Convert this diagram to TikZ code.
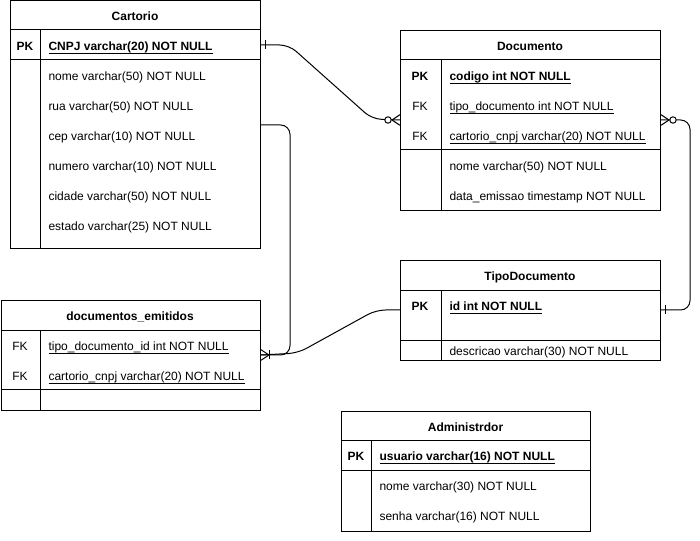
\documentclass[tikz,border=0pt]{standalone}
\usepackage{fontspec}
\setmainfont{Liberation Sans}
\newcommand\myul[1]{\setbox0\hbox{#1}\rlap{\rule[-1.8pt]{\wd0}{0.6pt}}\box0}
\begin{document}
\begin{tikzpicture}[x=0.75pt,y=-0.75pt, line width=0.75pt,
  tbl/.style={draw, inner sep=0, anchor=north west, fill=white},
  ttl/.style={font=\bfseries\fontsize{9}{11}\selectfont, inner sep=0, anchor=base, yshift=-1.5pt},
  keyl/.style={font=\bfseries\fontsize{9}{11}\selectfont, inner sep=0, anchor=base, yshift=-1.5pt},
  fkl/.style={font=\fontsize{9}{11}\selectfont, inner sep=0, anchor=base, yshift=-1.5pt},
  fld/.style={font=\fontsize{9}{11}\selectfont, inner sep=0, anchor=base west, yshift=-1.5pt},
  pkf/.style={font=\bfseries\fontsize{9}{11}\selectfont, inner sep=0, anchor=base west, yshift=-1.5pt},
  conn/.style={line width=0.75pt, rounded corners=7pt},
  mk/.style={line width=0.75pt}]
\useasboundingbox (0,0) rectangle (700,541);

% ---------------- Cartorio
\node[tbl, minimum width=187.5pt, minimum height=185.6pt] (cart) at (10,0.5) {};
\draw (10,30) -- (260,30) (10,60) -- (260,60) (40,30) -- (40,248);
\node[ttl] (cartT) at (135,19) {Cartorio};
\node[keyl] (cartK) at (25,49) {PK};
\node[pkf] (cartF1) at (48,49) {\myul{CNPJ varchar(20) NOT NULL}};
\node[fld] (cartF2) at (48,79) {nome varchar(50) NOT NULL};
\node[fld] (cartF3) at (48,109) {rua varchar(50) NOT NULL};
\node[fld] (cartF4) at (48,139) {cep varchar(10) NOT NULL};
\node[fld] (cartF5) at (48,169) {numero varchar(10) NOT NULL};
\node[fld] (cartF6) at (48,199) {cidade varchar(50) NOT NULL};
\node[fld] (cartF7) at (48,229) {estado varchar(25) NOT NULL};

% ---------------- Documento
\node[tbl, minimum width=195pt, minimum height=135pt] (doc) at (400,30) {};
\draw (400,60) -- (660,60) (400,150) -- (660,150) (441,60) -- (441,210);
\node[ttl] (docT) at (530,49) {Documento};
\node[keyl] (docK1) at (420,79) {PK};
\node[fkl] (docK2) at (420,109) {FK};
\node[fkl] (docK3) at (420,139) {FK};
\node[pkf] (docF1) at (449,79) {\myul{codigo int NOT NULL}};
\node[fld] (docF2) at (449,109) {\myul{tipo\_documento int NOT NULL}};
\node[fld] (docF3) at (449,139) {\myul{cartorio\_cnpj varchar(20) NOT NULL}};
\node[fld] (docF4) at (449,169) {nome varchar(50) NOT NULL};
\node[fld] (docF5) at (449,199) {data\_emissao timestamp NOT NULL};

% ---------------- TipoDocumento
\node[tbl, minimum width=195pt, minimum height=75pt] (tipo) at (400,260) {};
\draw (400,291) -- (660,291) (400,341) -- (660,341) (441,291) -- (441,360);
\node[ttl] (tipoT) at (530,279) {TipoDocumento};
\node[keyl] (tipoK) at (420,309) {PK};
\node[pkf] (tipoF1) at (449,309) {\myul{id int NOT NULL}};
\node[fld] (tipoF2) at (449,354) {descricao varchar(30) NOT NULL};

% ---------------- documentos_emitidos
\node[tbl, minimum width=194.6pt, minimum height=82.5pt] (emit) at (0.5,300) {};
\draw (0.5,331) -- (260,331) (0.5,390) -- (260,390) (40,331) -- (40,410);
\node[ttl] (emitT) at (130,319) {documentos\_emitidos};
\node[fkl] (emitK1) at (20,349) {FK};
\node[fkl] (emitK2) at (20,379) {FK};
\node[fld] (emitF1) at (48,349) {\myul{tipo\_documento\_id int NOT NULL}};
\node[fld] (emitF2) at (48,379) {\myul{cartorio\_cnpj varchar(20) NOT NULL}};

% ---------------- Administrdor
\node[tbl, minimum width=186.75pt, minimum height=90pt] (adm) at (341,411) {};
\draw (341,441) -- (590,441) (341,471) -- (590,471) (371,441) -- (371,531);
\node[ttl] (admT) at (465.5,430) {Administrdor};
\node[keyl] (admK) at (356,459) {PK};
\node[pkf] (admF1) at (379,459) {\myul{usuario varchar(16) NOT NULL}};
\node[fld] (admF2) at (379,489) {nome varchar(30) NOT NULL};
\node[fld] (admF3) at (379,519) {senha varchar(16) NOT NULL};

% ---------------- connector anchors
\coordinate (cpk) at (cart.east |- 0,45);
\coordinate (cmid) at (cart.east |- 0,125);
\coordinate (dleft) at (doc.west |- 0,120);
\coordinate (dright) at (doc.east |- 0,120);
\coordinate (tright) at (tipo.east |- 0,310);
\coordinate (tleft) at (tipo.west |- 0,310);
\coordinate (eright) at (emit.east |- 0,355);

% Cartorio -> Documento (one to zero-or-many)
\draw[conn] (cpk) -- ++(28,0) -- (372,119) -- (dleft);
\draw[mk] ([xshift=3pt]cpk) ++(0,-4.5) -- ++(0,9);
\draw[mk, fill=white] ([xshift=-9pt]dleft) circle (3.2);
\draw[mk] ([xshift=-6pt]dleft) -- ([yshift=4pt]dleft) ([xshift=-6pt]dleft) -- ([yshift=-4pt]dleft);

% Documento -> TipoDocumento (zero-or-many to one)
\draw[conn] (dright) -- (690,120) -- (690,310) -- (tright);
\draw[mk, fill=white] ([xshift=9pt]dright) circle (3.2);
\draw[mk] ([xshift=6pt]dright) -- ([yshift=4pt]dright) ([xshift=6pt]dright) -- ([yshift=-4pt]dright);
\draw[mk] ([xshift=3pt]tright) ++(0,-4.5) -- ++(0,9);

% Cartorio -> documentos_emitidos
\draw[conn] (cmid) -- (290,125) -- (290,355) -- (eright);
% TipoDocumento -> documentos_emitidos
\draw[conn] (tleft) -- (376,310) -- (298,353) -- (eright);
\draw[mk] ([xshift=6pt]eright) -- ([yshift=4pt]eright) ([xshift=6pt]eright) -- ([yshift=-4pt]eright);
\draw[mk] ([xshift=6.5pt]eright) ++(0,-4.5) -- ++(0,9);
\end{tikzpicture}
\end{document}
